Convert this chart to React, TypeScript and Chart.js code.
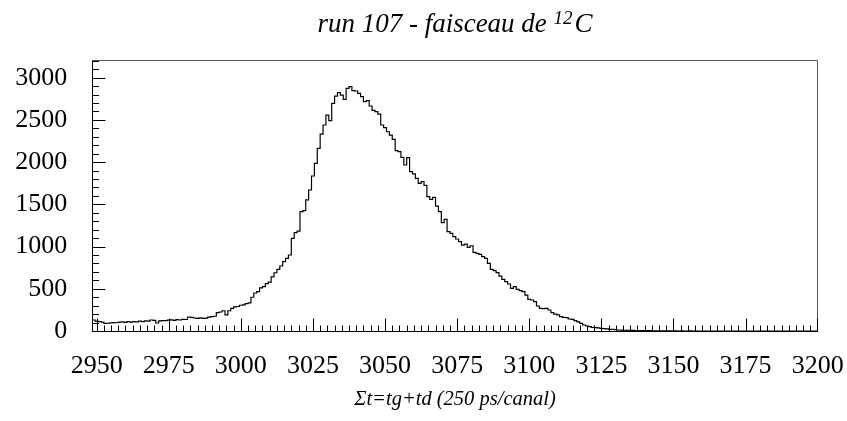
import React, { useEffect, useRef } from 'react';
import { Chart, registerables } from 'chart.js';

Chart.register(...registerables);

// Histogram: 1 channel per bin, first bin edge at 2948.5
const binStart = 2948.5;
const binWidth = 1;

// channels 2949 – 2999
const countsA = [
  130, 118, 110, 105, 90, 92, 96, 100, 98, 104,
  108, 102, 110, 106, 112, 108, 116, 110, 120, 118,
  130, 126, 95, 120, 124, 122, 128, 132, 126, 134,
  130, 138, 136, 166, 162, 154, 150, 156, 150, 152,
  165, 170, 175, 217, 225, 240, 190, 240, 268, 285,
  290,
];
// channels 3000 – 3049
const countsB = [
  305, 310, 325, 332, 400, 450, 466, 510, 525, 560,
  580, 640, 690, 730, 770, 821, 861, 900, 1097, 1165,
  1184, 1413, 1425, 1552, 1670, 1836, 1986, 2163, 2333, 2440,
  2558, 2491, 2697, 2783, 2823, 2795, 2744, 2874, 2894, 2847,
  2843, 2815, 2775, 2716, 2728, 2665, 2614, 2598, 2570, 2440,
];
// channels 3050 – 3099
const countsC = [
  2410, 2360, 2320, 2270, 2136, 2124, 2057, 1966, 2053, 1887,
  1860, 1808, 1749, 1769, 1725, 1591, 1560, 1583, 1480, 1413,
  1283, 1323, 1176, 1157, 1117, 1090, 1058, 1018, 1030, 991,
  1010, 932, 920, 908, 880, 861, 801, 730, 715, 691,
  651, 612, 584, 557, 505, 525, 494, 478, 466, 426,
];
// channels 3100 – 3149
const countsD = [
  375, 367, 347, 296, 268, 265, 268, 249, 217, 201,
  190, 170, 162, 158, 142, 138, 122, 107, 91, 71,
  59, 51, 43, 39, 36, 32, 28, 24, 20, 20,
  16, 12, 10, 9, 8, 8, 7, 6, 6, 5,
  5, 4, 4, 3, 3, 2, 2, 2, 1, 1,
];
// channels 3150 – 3199
const countsE = [
  1, 1, 0, 1, 0, 0, 1, 0, 0, 0,
  0, 0, 0, 0, 0, 0, 0, 0, 0, 0,
  0, 0, 0, 0, 0, 0, 0, 0, 0, 0,
  0, 0, 0, 0, 0, 0, 0, 0, 0, 0,
  0, 0, 0, 0, 0, 0, 0, 0, 0, 0,
];

const xMin = 2948.5;
const xMax = 3200;
const yMin = 0;
const yMax = 3210;

const xTickValues = [2950, 2975, 3000, 3025, 3050, 3075, 3100, 3125, 3150, 3175, 3200];
const xMinorStep = 2.5;
const yTickValues = [0, 500, 1000, 1500, 2000, 2500, 3000];
const yMinorStep = 100;

const titleMain = 'run 107 - faisceau de ';
const titleSup = '12';
const titleEnd = 'C';
const xTitle = 'Σt=tg+td (250 ps/canal)';

const SERIF = '"Liberation Serif", "Times New Roman", serif';

const rootFrame = {
  id: 'rootFrame',
  afterDatasetsDraw(chart: any) {
    const { ctx, chartArea: a, scales } = chart;
    const x = scales.x;
    const y = scales.y;
    const L = Math.round(a.left) + 0.5;
    const B = Math.round(a.bottom) + 0.5;
    const T = Math.round(a.top) + 0.5;
    const R = Math.round(a.right) - 0.5;
    ctx.save();
    ctx.lineWidth = 1;
    // top and right frame
    ctx.strokeStyle = '#555';
    ctx.beginPath();
    ctx.moveTo(L, T);
    ctx.lineTo(R, T);
    ctx.lineTo(R, B);
    ctx.stroke();
    // axes
    ctx.strokeStyle = '#000';
    ctx.beginPath();
    ctx.moveTo(L, T);
    ctx.lineTo(L, B);
    ctx.lineTo(R, B);
    ctx.stroke();
    // x ticks
    ctx.beginPath();
    const x0 = xTickValues[0];
    for (let k = Math.ceil((x.min - x0) / xMinorStep); x0 + k * xMinorStep <= x.max + 1e-6; k++) {
      const v = x0 + k * xMinorStep;
      let px = Math.round(x.getPixelForValue(v)) + 0.5;
      if (px > R) px = R;
      const major = k % 10 === 0;
      ctx.moveTo(px, B);
      ctx.lineTo(px, B - (major ? 13 : 6));
    }
    ctx.stroke();
    // y ticks
    ctx.beginPath();
    for (let v = yMin; v <= y.max + 1e-6; v += yMinorStep) {
      const py = Math.round(y.getPixelForValue(v)) + 0.5;
      const major = v % 500 === 0;
      ctx.moveTo(L, py);
      ctx.lineTo(L + (major ? 13 : 6.5), py);
    }
    ctx.stroke();
    ctx.restore();
  },
};

const rootTitle = {
  id: 'rootTitle',
  afterDraw(chart: any) {
    const { ctx, chartArea: a } = chart;
    ctx.save();
    ctx.fillStyle = '#000';
    ctx.textBaseline = 'alphabetic';
    ctx.textAlign = 'left';
    const mainFont = `italic 27px ${SERIF}`;
    const supFont = `italic 19px ${SERIF}`;
    ctx.font = mainFont;
    const w1 = ctx.measureText(titleMain).width;
    const w3 = ctx.measureText(titleEnd).width;
    ctx.font = supFont;
    const w2 = ctx.measureText(titleSup).width;
    const total = w1 + w2 + w3 + 2;
    const cx = (a.left + a.right) / 2;
    let sx = cx - total / 2;
    const base = 32;
    ctx.font = mainFont;
    ctx.fillText(titleMain, sx, base);
    sx += w1;
    ctx.font = supFont;
    ctx.fillText(titleSup, sx, base - 8);
    sx += w2 + 2;
    ctx.font = mainFont;
    ctx.fillText(titleEnd, sx, base);
    ctx.restore();
  },
};

export default function App() {
  const ref = useRef<HTMLCanvasElement>(null);
  useEffect(() => {
    const counts = [...countsA, ...countsB, ...countsC, ...countsD, ...countsE];
    const points = counts.map((c, i) => ({ x: binStart + i * binWidth, y: c }));
    points.push({ x: xMax, y: counts[counts.length - 1] });

    const chart = new Chart(ref.current as HTMLCanvasElement, {
      type: 'line',
      data: {
        datasets: [
          {
            data: points,
            stepped: 'before',
            borderColor: '#000',
            borderWidth: 1.2,
            pointRadius: 0,
            fill: false,
          },
        ],
      },
      options: {
        animation: false,
        responsive: false,
        devicePixelRatio: 1,
        layout: { padding: { top: 60, right: 29.3, bottom: 0, left: 0 } },
        plugins: {
          legend: { display: false },
          title: { display: false },
          tooltip: { enabled: false },
        },
        scales: {
          x: {
            type: 'linear',
            min: xMin,
            max: xMax,
            grid: { display: false, drawTicks: false },
            border: { display: false },
            afterBuildTicks: (s: any) => {
              s.ticks = xTickValues.map((v) => ({ value: v }));
            },
            afterFit: (s: any) => {
              s.height = 90;
              s.paddingLeft = 0;
              s.paddingRight = 0;
            },
            ticks: {
              callback: (v: any) => String(v),
              font: { family: SERIF, size: 26 },
              color: '#000',
              padding: 20,
              maxRotation: 0,
              autoSkip: false,
            },
            title: {
              display: true,
              text: xTitle,
              font: { family: SERIF, size: 20.5, style: 'italic' },
              color: '#000',
              padding: { top: 0, bottom: 9 },
            },
          },
          y: {
            type: 'linear',
            min: yMin,
            max: yMax,
            grid: { display: false, drawTicks: false },
            border: { display: false },
            afterBuildTicks: (s: any) => {
              s.ticks = yTickValues.map((v) => ({ value: v }));
            },
            afterFit: (s: any) => {
              s.width = 92.3;
              s.paddingTop = 0;
              s.paddingBottom = 0;
            },
            ticks: {
              callback: (v: any) => String(v),
              font: { family: SERIF, size: 26 },
              color: '#000',
              padding: 25,
            },
          },
        },
      } as any,
      plugins: [rootFrame, rootTitle],
    });
    return () => chart.destroy();
  }, []);

  return (
    <div style={{ position: 'absolute', left: 0, top: 0, width: 847, height: 421, background: '#fff' }}>
      <canvas ref={ref} width={847} height={421} style={{ display: 'block', width: 847, height: 421 }} />
    </div>
  );
}
